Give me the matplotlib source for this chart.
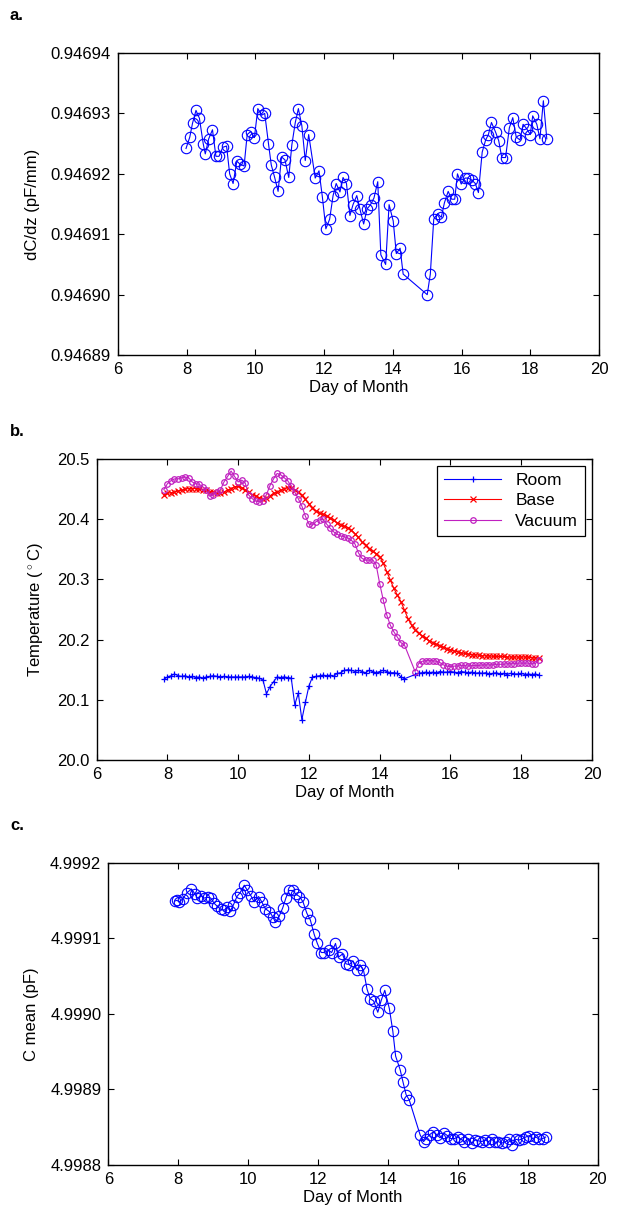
import numpy as np
import matplotlib
matplotlib.use("Agg")
import matplotlib.pyplot as plt
from matplotlib.ticker import FormatStrFormatter

plt.rcParams.update({"font.family": ["Liberation Sans", "DejaVu Sans"], "font.size": 12,
                     "mathtext.fontset": "custom", "mathtext.rm": "Liberation Sans",
                     "axes.linewidth": 1.0})

BLUE = "#0000ff"
RED = "#ff0000"
MAG = "#c020c0"

# ---- panel a: dC/dz ----
day_a = [7.98, 8.09, 8.17, 8.27, 8.37, 8.48, 8.54, 8.64, 8.75, 8.85,
         8.94, 9.05, 9.16, 9.25, 9.35, 9.46, 9.55, 9.67, 9.76, 9.86,
         9.97, 10.07, 10.18, 10.27, 10.38, 10.46, 10.56, 10.66, 10.76, 10.86,
         10.97, 11.06, 11.16, 11.25, 11.35, 11.45, 11.55, 11.74, 11.85, 11.95,
         12.05, 12.16, 12.26, 12.35, 12.46, 12.55, 12.65, 12.75, 12.84, 12.95,
         13.04, 13.15, 13.25, 13.35, 13.45, 13.56, 13.65, 13.79, 13.89, 14.01,
         14.10, 14.21, 14.30, 15.00, 15.09, 15.19, 15.30, 15.41, 15.50, 15.61,
         15.71, 15.80, 15.88, 15.99, 16.10, 16.19, 16.29, 16.40, 16.49, 16.60,
         16.70, 16.78, 16.87, 16.99, 17.08, 17.17, 17.28, 17.39, 17.49, 17.59,
         17.70, 17.79, 17.89, 18.00, 18.07, 18.19, 18.28, 18.38, 18.48]
dcdz = [0.9469242, 0.9469261, 0.9469284, 0.9469305, 0.9469292, 0.9469250, 0.9469233, 0.9469258, 0.9469273, 0.9469229,
        0.9469229, 0.9469244, 0.9469246, 0.9469200, 0.9469184, 0.9469221, 0.9469216, 0.9469213, 0.9469265, 0.9469270,
        0.9469260, 0.9469308, 0.9469297, 0.9469300, 0.9469250, 0.9469215, 0.9469194, 0.9469171, 0.9469228, 0.9469223,
        0.9469194, 0.9469248, 0.9469285, 0.9469308, 0.9469280, 0.9469222, 0.9469265, 0.9469193, 0.9469205, 0.9469161,
        0.9469109, 0.9469125, 0.9469164, 0.9469184, 0.9469170, 0.9469194, 0.9469184, 0.9469131, 0.9469149, 0.9469164,
        0.9469142, 0.9469117, 0.9469142, 0.9469149, 0.9469160, 0.9469187, 0.9469066, 0.9469050, 0.9469149, 0.9469122,
        0.9469068, 0.9469077, 0.9469034, 0.9469000, 0.9469034, 0.9469125, 0.9469134, 0.9469128, 0.9469152, 0.9469171,
        0.9469158, 0.9469158, 0.9469200, 0.9469183, 0.9469193, 0.9469193, 0.9469190, 0.9469184, 0.9469169, 0.9469236,
        0.9469256, 0.9469265, 0.9469285, 0.9469269, 0.9469255, 0.9469227, 0.9469227, 0.9469276, 0.9469293, 0.9469261,
        0.9469256, 0.9469282, 0.9469275, 0.9469265, 0.9469296, 0.9469282, 0.9469258, 0.9469321, 0.9469258]

# ---- panel b: temperatures, sampled every 0.1 day from 7.9 to 18.5 ----
day_b = np.round(np.arange(7.9, 18.55, 0.1), 1)
nan = np.nan
room = [20.134, 20.138, 20.140, 20.143, 20.140, 20.139, 20.140, 20.138, 20.139, 20.137,
        20.138, 20.136, 20.138, 20.139, 20.140, 20.139, 20.138, 20.139, 20.138, 20.138,
        20.138, 20.138, 20.138, 20.138, 20.139, 20.138, 20.137, 20.136, 20.133, 20.110,
        20.122, 20.130, 20.138, 20.137, 20.138, 20.137, 20.136, 20.092, 20.111, 20.067,
        20.096, 20.123, 20.138, 20.139, 20.140, 20.141, 20.140, 20.141, 20.139, 20.144,
        20.145, 20.149, 20.150, 20.149, 20.147, 20.149, 20.147, 20.145, 20.149, 20.147,
        20.145, 20.147, 20.149, 20.147, 20.145, 20.145, 20.144, 20.138, 20.135, nan,
        nan, 20.142, 20.144, 20.145, 20.146, 20.145, 20.146, 20.145, 20.147, 20.146,
        20.146, 20.147, 20.146, 20.145, 20.147, 20.146, 20.145, 20.146, 20.144, 20.145,
        20.144, 20.145, 20.143, 20.144, 20.145, 20.143, 20.144, 20.142, 20.144, 20.143,
        20.143, 20.144, 20.142, 20.143, 20.142, 20.143, 20.141]
base = [20.441, 20.443, 20.444, 20.445, 20.447, 20.448, 20.450, 20.451, 20.451, 20.451,
        20.450, 20.449, 20.448, 20.446, 20.445, 20.444, 20.444, 20.445, 20.448, 20.451,
        20.454, 20.455, 20.452, 20.449, 20.445, 20.441, 20.438, 20.436, 20.434, 20.435,
        20.439, 20.443, 20.445, 20.448, 20.451, 20.452, 20.452, 20.449, 20.445, 20.440,
        20.433, 20.426, 20.419, 20.414, 20.410, 20.408, 20.405, 20.402, 20.398, 20.394,
        20.391, 20.388, 20.386, 20.382, 20.376, 20.370, 20.362, 20.357, 20.351, 20.347,
        20.343, 20.338, 20.327, 20.313, 20.299, 20.285, 20.274, 20.263, 20.249, 20.235,
        20.224, 20.216, 20.211, 20.206, 20.202, 20.198, 20.195, 20.192, 20.190, 20.187,
        20.185, 20.183, 20.181, 20.180, 20.178, 20.177, 20.176, 20.175, 20.175, 20.174,
        20.173, 20.173, 20.173, 20.172, 20.172, 20.172, 20.172, 20.171, 20.171, 20.171,
        20.171, 20.171, 20.171, 20.171, 20.170, 20.170, 20.169]
vacuum = [20.449, 20.459, 20.464, 20.467, 20.467, 20.469, 20.470, 20.469, 20.462, 20.459,
          20.458, 20.454, 20.448, 20.438, 20.441, 20.445, 20.449, 20.462, 20.471, 20.480,
          20.471, 20.462, 20.465, 20.460, 20.440, 20.434, 20.430, 20.429, 20.431, 20.441,
          20.456, 20.467, 20.476, 20.474, 20.469, 20.464, 20.455, 20.445, 20.434, 20.422,
          20.405, 20.392, 20.390, 20.396, 20.399, 20.400, 20.392, 20.385, 20.379, 20.375,
          20.372, 20.371, 20.369, 20.365, 20.359, 20.344, 20.335, 20.332, 20.332, 20.333,
          20.324, 20.293, 20.266, 20.241, 20.224, 20.213, 20.204, 20.195, 20.191, nan,
          nan, 20.147, 20.160, 20.164, 20.165, 20.165, 20.165, 20.164, 20.162, 20.158,
          20.156, 20.155, 20.156, 20.156, 20.157, 20.157, 20.156, 20.157, 20.157, 20.157,
          20.158, 20.158, 20.158, 20.158, 20.159, 20.159, 20.159, 20.160, 20.160, 20.160,
          20.161, 20.161, 20.161, 20.161, 20.160, 20.160, 20.166]

# ---- panel c: C mean ----
day_c = [7.90, 7.96, 8.03, 8.13, 8.25, 8.38, 8.47, 8.55, 8.65, 8.74,
         8.84, 8.93, 9.03, 9.12, 9.22, 9.32, 9.39, 9.49, 9.58, 9.68,
         9.77, 9.89, 9.98, 10.08, 10.17, 10.30, 10.39, 10.49, 10.61, 10.71,
         10.78, 10.89, 10.99, 11.08, 11.17, 11.28, 11.37, 11.47, 11.57, 11.68,
         11.78, 11.89, 11.98, 12.09, 12.18, 12.30, 12.39, 12.50, 12.59, 12.70,
         12.80, 12.90, 13.00, 13.11, 13.20, 13.30, 13.40, 13.49, 13.59, 13.71,
         13.81, 13.91, 14.04, 14.14, 14.22, 14.35, 14.43, 14.52, 14.61, 14.92,
         15.02, 15.09, 15.19, 15.30, 15.40, 15.49, 15.61, 15.70, 15.80, 15.90,
         16.00, 16.09, 16.19, 16.30, 16.40, 16.49, 16.59, 16.68, 16.78, 16.88,
         16.97, 17.07, 17.16, 17.26, 17.37, 17.47, 17.56, 17.66, 17.75, 17.85,
         17.94, 18.05, 18.14, 18.24, 18.33, 18.43, 18.51]
cmean = [4.999149, 4.999150, 4.999148, 4.999152, 4.999160, 4.999165, 4.999159, 4.999153, 4.999156, 4.999153,
         4.999154, 4.999153, 4.999146, 4.999142, 4.999138, 4.999137, 4.999141, 4.999136, 4.999144, 4.999155,
         4.999160, 4.999170, 4.999163, 4.999156, 4.999148, 4.999155, 4.999148, 4.999139, 4.999135, 4.999128,
         4.999121, 4.999129, 4.999140, 4.999153, 4.999163, 4.999163, 4.999158, 4.999155, 4.999148, 4.999133,
         4.999124, 4.999105, 4.999093, 4.999081, 4.999081, 4.999084, 4.999081, 4.999093, 4.999075, 4.999079,
         4.999066, 4.999065, 4.999070, 4.999058, 4.999065, 4.999058, 4.999033, 4.999020, 4.999017, 4.999002,
         4.999018, 4.999031, 4.999007, 4.998977, 4.998944, 4.998926, 4.998910, 4.998893, 4.998886, 4.998840,
         4.998831, 4.998835, 4.998840, 4.998844, 4.998840, 4.998836, 4.998842, 4.998839, 4.998835, 4.998835,
         4.998837, 4.998834, 4.998831, 4.998835, 4.998829, 4.998833, 4.998832, 4.998831, 4.998833, 4.998831,
         4.998834, 4.998830, 4.998831, 4.998829, 4.998831, 4.998834, 4.998827, 4.998834, 4.998833, 4.998835,
         4.998837, 4.998839, 4.998835, 4.998837, 4.998834, 4.998835, 4.998837]


def style(ax):
    ax.set_xlim(6, 20)
    ax.set_xticks([6, 8, 10, 12, 14, 16, 18, 20])
    ax.tick_params(direction="in", top=True, right=True, length=4, width=0.8, labelsize=12, pad=5)
    ax.set_xlabel("Day of Month", fontsize=12, labelpad=2)


fig = plt.figure(figsize=(6.21, 12.16), dpi=100)

ax = fig.add_axes([0.190, 0.708, 0.7746, 0.2484])
ax.plot(day_a, dcdz, color=BLUE, lw=0.8, marker="o", ms=7.5, mfc="none", mec=BLUE, mew=0.8)
style(ax)
ax.set_ylim(0.94689, 0.94694)
ax.set_yticks([0.94689, 0.94690, 0.94691, 0.94692, 0.94693, 0.94694])
ax.yaxis.set_major_formatter(FormatStrFormatter("%.5f"))
ax.set_ylabel("dC/dz (pF/mm)", fontsize=12, labelpad=8)

ax = fig.add_axes([0.1556, 0.375, 0.7977, 0.2475])
for vals, c, m, ms, name in [(room, BLUE, "+", 5, "Room"), (base, RED, "x", 5, "Base"),
                              (vacuum, MAG, "o", 4, "Vacuum")]:
    v = np.array(vals)
    ok = np.isfinite(v)
    ax.plot(day_b[ok], v[ok], color=c, lw=0.8, marker=m, ms=ms, mfc="none", mec=c, mew=0.9, label=name)
style(ax)
ax.set_ylim(20.0, 20.5)
ax.set_yticks([20.0, 20.1, 20.2, 20.3, 20.4, 20.5])
ax.yaxis.set_major_formatter(FormatStrFormatter("%.1f"))
ax.set_ylabel(r"Temperature ($^\circ$C)", fontsize=12, labelpad=8)
leg = ax.legend(loc="upper right", fancybox=False, edgecolor="black", framealpha=1,
                fontsize=12.5, handlelength=3.3, borderaxespad=0.4, labelspacing=0.3)
leg.get_frame().set_linewidth(0.9)

ax = fig.add_axes([0.1744, 0.0419, 0.788, 0.2488])
ax.plot(day_c, cmean, color=BLUE, lw=0.8, marker="o", ms=7.5, mfc="none", mec=BLUE, mew=0.8)
style(ax)
ax.set_ylim(4.9988, 4.9992)
ax.set_yticks([4.9988, 4.9989, 4.9990, 4.9991, 4.9992])
ax.yaxis.set_major_formatter(FormatStrFormatter("%.4f"))
ax.set_ylabel("C mean (pF)", fontsize=12, labelpad=8)

for lab, y in [("a.", 15), ("b.", 432), ("c.", 825)]:
    fig.text(10 / 621, 1 - y / 1216, lab, fontsize=12, weight="bold", va="center", ha="left")

fig.savefig("out.png", dpi=100)
